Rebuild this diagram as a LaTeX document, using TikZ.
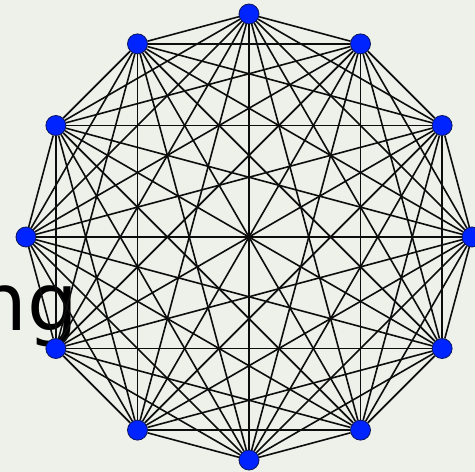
\documentclass[tikz,border=0pt]{standalone}
\usepackage{fontspec}
\newfontfamily\labelfont{DejaVu Sans}
\usepackage{tikz}
\definecolor{bgcol}{RGB}{238,240,234}
\definecolor{vblue}{RGB}{0,36,255}
\definecolor{vrim}{RGB}{10,20,90}

\begin{document}
\begin{tikzpicture}[x=1pt, y=1pt,
  vertex/.style={circle, draw=vrim, fill=vblue, line width=0.8pt,
                 minimum size=20pt, inner sep=0pt},
  edge/.style={line width=1.6pt, black!95}
]
\fill[bgcol] (-249,-235) rectangle (226,237);
\useasboundingbox (-249,-235) rectangle (226,237);

\node[anchor=base east, inner sep=0pt, font=\labelfont\fontsize{80}{96}\selectfont]
  (word) at (-171,-93) {ng};

\foreach \i in {1,...,12}
  \node[vertex] (v\i) at ({90-30*(\i-1)}:223) {};

\foreach \i in {1,...,12}
  \foreach \j in {1,...,12}
    {\ifnum\i<\j \draw[edge] (v\i) -- (v\j); \fi}
\end{tikzpicture}
\end{document}
